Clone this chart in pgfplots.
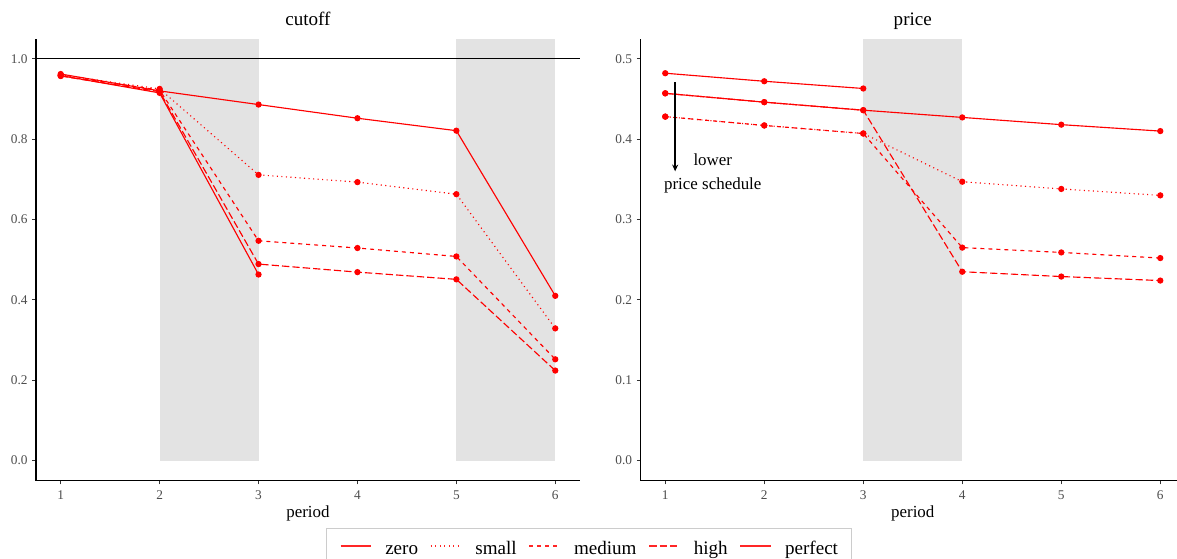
\documentclass[border=0pt]{standalone}
\usepackage{fontspec}
\setmainfont{Liberation Serif}
\usepackage{pgfplots}
\pgfplotsset{compat=1.18}
\usepackage{pgfplotstable}
\usetikzlibrary{arrows.meta}
\definecolor{panelgrey}{RGB}{227,227,227}
\definecolor{ticktext}{RGB}{77,77,77}

\pgfplotstableread{
period zero small medium high perfect
1 0.958 0.960 0.958 0.957 0.962
2 0.915 0.925 0.922 0.918 0.920
3 0.463 0.711 0.547 0.489 0.886
4 nan 0.693 0.529 0.469 0.852
5 nan 0.663 0.508 0.451 0.821
6 nan 0.329 0.252 0.224 0.410
}\cutoffdata

\pgfplotstableread{
period zero small medium high perfect
1 0.482 0.428 0.428 0.457 0.457
2 0.472 0.417 0.417 0.446 0.446
3 0.463 0.407 0.407 0.436 0.436
4 nan 0.347 0.265 0.235 0.427
5 nan 0.338 0.259 0.229 0.418
6 nan 0.330 0.252 0.224 0.410
}\pricedata

\pgfplotsset{
  ggbase/.style={
    scale only axis, height=331.5pt,
    xmin=0.75, xmax=6.25,
    axis lines=left,
    axis line style={-, line width=0.8pt, black},
    tick align=outside, major tick length=2.8pt,
    tick style={line width=0.8pt, black!80},
    xtick={1,2,3,4,5,6},
    ticklabel style={font=\fontsize{10}{12}\selectfont, text=ticktext},
    xticklabel style={yshift=-1.5pt},
    /pgf/number format/assume math mode=true,
    yticklabel style={/pgf/number format/fixed, /pgf/number format/fixed zerofill, /pgf/number format/precision=1},
    xlabel={period},
    xlabel style={font=\fontsize{12.7}{14}\selectfont, at={(axis description cs:0.5,0)}, anchor=base, yshift=-27.5pt},
    title style={font=\fontsize{14.3}{16}\selectfont, at={(axis description cs:0.5,1)}, anchor=base, yshift=3.8pt},
    unbounded coords=jump,
  },
  sbase/.style={red, line width=0.85pt, mark=*, mark size=1.9pt, mark options={solid, fill=red, draw=red}},
  zero/.style={sbase, solid},
  small/.style={sbase, dash pattern=on 0.8pt off 2.6pt},
  medium/.style={sbase, dash pattern=on 3pt off 3pt},
  high/.style={sbase, dash pattern=on 5.5pt off 2.3pt},
  perfect/.style={sbase, solid},
}

\begin{document}
\begin{tikzpicture}
\useasboundingbox (0pt,0pt) rectangle (882.75pt,-419.25pt);
\clip (0pt,0pt) rectangle (882.75pt,-419.25pt);
\begin{axis}[ggbase, at={(27pt,-360.5pt)}, anchor=south west, width=408pt,
  ymin=-0.05, ymax=1.05, ytick={0,0.2,0.4,0.6,0.8,1.0}, title={cutoff},
  legend columns=5,
  legend image code/.code={\draw[#1, draw=red!85, line width=1pt] (0pt,2.6pt) -- (23pt,2.6pt);},
  legend style={at={(axis description cs:1.0165,-0.107)}, anchor=north,
    draw=black!20, line width=0.5pt, font=\fontsize{14.3}{16}\selectfont,
    inner xsep=10pt, inner ysep=9.5pt,
    nodes={inner xsep=0pt, inner ysep=0pt, text height=10pt, text depth=3pt},
    /tikz/every odd column/.append style={column sep=10pt},
    /tikz/every even column/.append style={column sep=9pt}},
]
\addplot[fill=panelgrey, draw=none, forget plot] coordinates {(2,0) (2,1.05) (3,1.05) (3,0)} -- cycle;
\addplot[fill=panelgrey, draw=none, forget plot] coordinates {(5,0) (5,1.05) (6,1.05) (6,0)} -- cycle;
\addplot[black, line width=0.7pt, forget plot] coordinates {(0.75,1) (6.25,1)};
\addplot[zero] table[x=period, y=zero] {\cutoffdata}; \addlegendentry{zero}
\addplot[small] table[x=period, y=small] {\cutoffdata}; \addlegendentry{small}
\addplot[medium] table[x=period, y=medium] {\cutoffdata}; \addlegendentry{medium}
\addplot[high] table[x=period, y=high] {\cutoffdata}; \addlegendentry{high}
\addplot[perfect] table[x=period, y=perfect] {\cutoffdata}; \addlegendentry{perfect}
\end{axis}

\begin{axis}[ggbase, at={(480.375pt,-360.5pt)}, anchor=south west, width=408.4pt,
  ymin=-0.025, ymax=0.525, ytick={0,0.1,0.2,0.3,0.4,0.5}, title={price},
]
\addplot[fill=panelgrey, draw=none, forget plot] coordinates {(3,0) (3,0.525) (4,0.525) (4,0)} -- cycle;
\addplot[zero] table[x=period, y=zero] {\pricedata};
\addplot[small] table[x=period, y=small] {\pricedata};
\addplot[medium] table[x=period, y=medium] {\pricedata};
\addplot[high] table[x=period, y=high] {\pricedata};
\addplot[perfect] table[x=period, y=perfect] {\pricedata};
\draw[line width=2pt, -{Stealth[length=5pt, width=4.5pt]}] (axis cs:1.1,0.471) -- (axis cs:1.1,0.360);
\node[align=center, font=\fontsize{12.7}{18}\selectfont, inner sep=0pt] at (axis cs:1.48,0.357) {lower\\price schedule};
\end{axis}
\end{tikzpicture}
\end{document}
